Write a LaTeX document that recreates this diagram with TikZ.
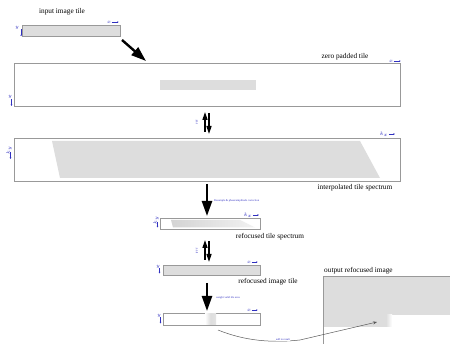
\documentclass[tikz,border=0pt]{standalone}
\usepackage{fontspec}
\setmainfont{Liberation Serif}
\usetikzlibrary{arrows.meta,shadings}
\definecolor{tilegray}{HTML}{DDDDDD}
\definecolor{axblue}{HTML}{3030C0}
\tikzset{
  tilebox/.style={draw=gray!80, line width=0.6pt, inner sep=0pt, anchor=north west},
  title/.style={font=\fontsize{7.3}{8}\selectfont, inner sep=0pt},
  note/.style={font=\fontsize{2.8}{3}\selectfont, text=axblue, inner sep=0pt},
  axlab/.style={font=\fontsize{3.5}{4}\selectfont, text=axblue, inner sep=0.5pt},
  axarrow/.style={draw=axblue, line width=0.4pt, -{Stealth[length=1.5pt,width=1.5pt]}},
  bigarrow/.style={line width=2.4pt, -{Triangle[length=15pt,width=10pt]}},
  halfarrow/.style={line width=1.5pt, -{Triangle[length=8pt,width=5pt]}}
}
\begin{document}
\begin{tikzpicture}[x=1pt,y=-1pt]
\useasboundingbox (0,0) rectangle (450,344);
% input tile
\node[title] (tin) at (62,12) {input image tile};
\node[tilebox, fill=tilegray, minimum width=98pt, minimum height=11pt] (in) at (22,25) {};
\node[axlab] (inx) at (109,22) {$x$};
\draw[axarrow] (inx.east) -- ++(7,0);
\node[axlab] (iny) at (17,28) {$y$};
\draw[axarrow] (iny.south east) ++(1.5,-1) -- ++(0,7);
% big arrow
\coordinate (a1s) at (122,40);
\coordinate (a1e) at (146,61);
\draw[bigarrow] (a1s) -- (a1e);
% zero padded
\node[title] (tzp) at (345,57) {zero padded tile};
\node[tilebox, fill=white, minimum width=386pt, minimum height=43pt] (zp) at (14,63) {};
\fill[tilegray] (160,80) rectangle (256,90);
\node[axlab] (zpx) at (391,61) {$x$};
\draw[axarrow] (zpx.east) -- ++(7,0);
\node[axlab] (zpy) at (10,97) {$y$};
\draw[axarrow] (11.5,99) -- ++(0,7);
% FFT
\coordinate (f1t) at (205,112);
\coordinate (f1b) at (205,132);
\coordinate (f2t) at (209,113);
\coordinate (f2b) at (209,134);
\draw[halfarrow] (f1b) -- (f1t);
\draw[halfarrow] (f2t) -- (f2b);
\node[note, rotate=90] (fft1) at (197,122) {FFT};
% interpolated spectrum
\node[tilebox, fill=white, minimum width=386pt, minimum height=43pt] (is) at (14,138) {};
\fill[tilegray] (52,141) -- (360,141) -- (380,178) -- (60,178) -- cycle;
\node[axlab] (isx) at (384,134) {$k_x$};
\draw[axarrow] (isx.east) -- ++(6,0);
\node[axlab, rotate=90] (isy) at (9,150) {$k_y$};
\draw[axarrow] (10.5,152) -- ++(0,7);
\node[title] (tis) at (355,188) {interpolated tile spectrum};
% resample arrow
\coordinate (a2s) at (207,184);
\coordinate (a2e) at (207,216);
\draw[bigarrow] (a2s) -- (a2e);
\node[note, anchor=west] (res) at (214,201) {Resample \& phase/amplitude correction};
% refocused spectrum
\node[tilebox, fill=white, minimum width=100pt, minimum height=11pt] (rs) at (160,218) {};
\shade[left color=tilegray!90!gray, right color=tilegray!40] (171,220) -- (240,220) -- (255,227.5) -- (173,227.5) -- cycle;
\node[axlab] (rsx) at (248,215) {$k_x$};
\draw[axarrow] (rsx.east) -- ++(6,0);
\node[axlab, rotate=90] (rsy) at (156,220) {$k_y$};
\draw[axarrow] (157.5,222.5) -- ++(0,5);
\node[title] (trs) at (270,237) {refocused tile spectrum};
% iFFT
\coordinate (g1t) at (205,240);
\coordinate (g1b) at (205,260);
\coordinate (g2t) at (209,241);
\coordinate (g2b) at (209,262);
\draw[halfarrow] (g1b) -- (g1t);
\draw[halfarrow] (g2t) -- (g2b);
\node[note, rotate=90] (fft2) at (197,251) {iFFT};
% refocused image tile
\node[tilebox, fill=tilegray, minimum width=97pt, minimum height=10pt] (ri) at (163,265) {};
\node[axlab] (rix) at (249,262) {$x$};
\draw[axarrow] (rix.east) -- ++(6,0);
\node[axlab] (riy) at (158,267) {$y$};
\draw[axarrow] (159.5,268.5) -- ++(0,5);
\node[title] (tri) at (268,282) {refocused image tile};
% weight arrow
\coordinate (a3s) at (207,283);
\coordinate (a3e) at (207,311);
\draw[bigarrow] (a3s) -- (a3e);
\node[note, anchor=west] (wt) at (216,298) {weight valid tile area};
% weighted tile
\node[tilebox, fill=white, minimum width=97pt, minimum height=12pt] (wtile) at (163,313) {};
\shade[left color=white, right color=tilegray!80, middle color=tilegray] (205,313.4) rectangle (216,324.6);
\node[axlab] (wx) at (249,310) {$x$};
\draw[axarrow] (wx.east) -- ++(6,0);
\node[axlab] (wy) at (159,316) {$y$};
\draw[axarrow] (160.5,317.5) -- ++(0,6);
% output image
\node[title, anchor=west] (tout) at (324,271) {output refocused image};
\fill[tilegray] (323,276) rectangle (450,315);
\fill[tilegray] (323,315) rectangle (386,327);
\shade[left color=tilegray, right color=white] (386,315) rectangle (392,327);
\draw[gray!80, line width=0.6pt] (450,276) -- (323,276) -- (323,344);
\coordinate (outp) at (377,322);
% add to result
\coordinate (cs) at (218,330);
\coordinate (cm) at (300,340);
\draw[line width=0.5pt, gray!70!black] (cs) .. controls (245,341) and (272,343) .. (cm);
\draw[line width=0.5pt, gray!70!black, -{Stealth[length=4pt,width=3pt]}] (cm) -- (outp);
\node[note, fill=white, inner sep=0.5pt] (add) at (283,339.5) {add to result};
\end{tikzpicture}
\end{document}
